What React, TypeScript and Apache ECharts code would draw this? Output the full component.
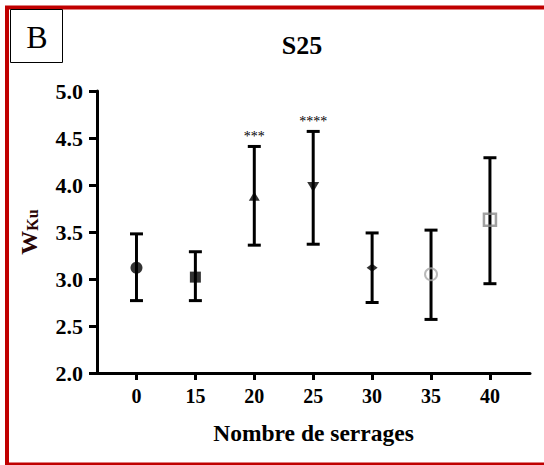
import React, { useEffect, useRef } from "react";
import * as echarts from "echarts";

const categories = ["0", "15", "20", "25", "30", "35", "40"];
const means = [3.12, 3.02, 3.88, 3.98, 3.12, 3.05, 3.63];
const lowers = [2.77, 2.77, 3.36, 3.37, 2.75, 2.57, 2.95];
const uppers = [3.48, 3.29, 4.41, 4.57, 3.49, 3.52, 4.29];
const significance = ["", "", "***", "****", "", "", ""];
const yTicks = [2.0, 2.5, 3.0, 3.5, 4.0, 4.5, 5.0];

const SERIF = "'Liberation Serif', 'Times New Roman', serif";

const markerStyles = [
  { symbol: "circle", symbolSize: 12, itemStyle: { color: "#000" } },
  { symbol: "rect", symbolSize: 11, itemStyle: { color: "#000" } },
  { symbol: "triangle", symbolSize: [11, 9], itemStyle: { color: "#000" } },
  { symbol: "triangle", symbolSize: [12, 10], symbolRotate: 180, itemStyle: { color: "#000" } },
  { symbol: "diamond", symbolSize: [11, 8], itemStyle: { color: "#000" } },
  { symbol: "circle", symbolSize: 12, itemStyle: { color: "transparent", borderColor: "#a8a8a8", borderWidth: 2 } },
  { symbol: "rect", symbolSize: 12, itemStyle: { color: "transparent", borderColor: "#8a8a8a", borderWidth: 2.5 } },
];

export default function App() {
  const ref = useRef<HTMLDivElement>(null);
  useEffect(() => {
    if (!ref.current) return;
    const chart = echarts.init(ref.current, null, { renderer: "svg" });
    const idx = categories.map((_, i) => i);
    chart.setOption({
      animation: false,
      backgroundColor: "#fff",
      grid: { left: 97, right: 14, top: 91, bottom: 92, containLabel: false },
      xAxis: {
        type: "value",
        min: -0.67,
        max: 6.68,
        splitLine: { show: false },
        axisLine: { show: true, onZero: false, lineStyle: { color: "#000", width: 3 } },
        axisTick: { show: true, customValues: idx, length: 7, lineStyle: { color: "#000", width: 3 } },
        axisLabel: {
          customValues: idx,
          formatter: (v: number) => categories[Math.round(v)],
          color: "#000",
          fontFamily: SERIF,
          fontWeight: "bold",
          fontSize: 20,
          margin: 13,
        },
        name: "Nombre de serrages",
        nameLocation: "middle",
        nameGap: 48,
        nameTextStyle: { color: "#000", fontFamily: SERIF, fontWeight: "bold", fontSize: 23.5 },
      },
      yAxis: {
        type: "value",
        min: 2,
        max: 5,
        interval: 0.5,
        splitLine: { show: false },
        axisLine: { show: true, onZero: false, lineStyle: { color: "#000", width: 3 } },
        axisTick: { show: true, length: 8, lineStyle: { color: "#000", width: 3 } },
        axisLabel: {
          formatter: (v: number) => (yTicks.indexOf(v) >= 0 ? v.toFixed(1) : ""),
          color: "#000",
          fontFamily: SERIF,
          fontWeight: "bold",
          fontSize: 22,
          margin: 14,
        },
        name: "{a|W}{b|Ku}",
        nameLocation: "middle",
        nameRotate: 90,
        nameGap: 56,
        nameTextStyle: {
          rich: {
            a: { fontFamily: SERIF, fontWeight: "bold", fontSize: 24, color: "#2a0606" },
            b: { fontFamily: SERIF, fontWeight: "bold", fontSize: 16, color: "#2a0606", padding: [6, 0, 0, 0] },
          },
        },
      },
      graphic: [
        {
          type: "rect",
          shape: { x: 7, y: 7.5, width: 620, height: 457 },
          style: { fill: "none", stroke: "#c00000", lineWidth: 4 },
          silent: true,
        },
        {
          type: "rect",
          shape: { x: 10.5, y: 9.5, width: 52, height: 53 },
          style: { fill: "#fff", stroke: "#000", lineWidth: 1 },
        },
        {
          type: "text",
          x: 37,
          y: 37,
          style: {
            text: "B",
            fontFamily: SERIF,
            fontSize: 32,
            fill: "#000",
            align: "center",
            verticalAlign: "middle",
          },
        },
        {
          type: "text",
          x: 302,
          y: 45,
          style: {
            text: "S25",
            fontFamily: SERIF,
            fontWeight: "bold",
            fontSize: 26,
            fill: "#000",
            align: "center",
            verticalAlign: "middle",
          },
        },
      ],
      series: [
        {
          type: "custom",
          data: idx.map((i) => [i, lowers[i], uppers[i]]),
          encode: { x: 0, y: [1, 2] },
          z: 2,
          renderItem: (params: any, api: any) => {
            const x = api.value(0);
            const lo = api.coord([x, api.value(1)]);
            const hi = api.coord([x, api.value(2)]);
            const hw = 6.5;
            const st = { stroke: "#000", lineWidth: 3 };
            const children: any[] = [
              { type: "line", shape: { x1: lo[0], y1: lo[1], x2: hi[0], y2: hi[1] }, style: st },
              { type: "line", shape: { x1: hi[0] - hw, y1: hi[1], x2: hi[0] + hw, y2: hi[1] }, style: st },
              { type: "line", shape: { x1: lo[0] - hw, y1: lo[1], x2: lo[0] + hw, y2: lo[1] }, style: st },
            ];
            const s = significance[params.dataIndex];
            if (s) {
              children.push({
                type: "text",
                x: hi[0],
                y: hi[1] - 10,
                style: {
                  text: s,
                  fontFamily: SERIF,
                  fontSize: 14,
                  fill: "#000",
                  align: "center",
                  verticalAlign: "middle",
                },
              });
            }
            return { type: "group", children };
          },
        },
        {
          type: "scatter",
          z: 3,
          data: idx.map((i) => ({ value: [i, means[i]], ...markerStyles[i] })),
        },
      ],
    });
    return () => chart.dispose();
  }, []);
  return (
    <div
      ref={ref}
      style={{ position: "absolute", left: 0, top: 0, width: 544, height: 465 }}
    />
  );
}
